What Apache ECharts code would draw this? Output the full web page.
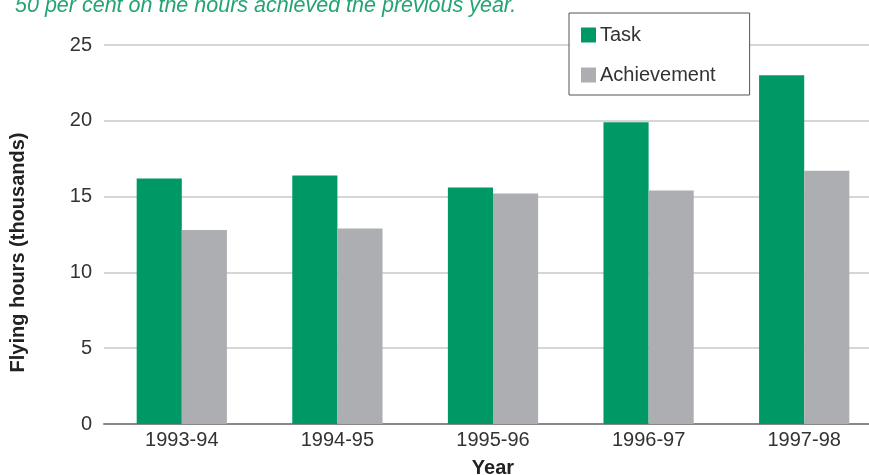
<!DOCTYPE html>
<html><head><meta charset="utf-8">
<script src="https://cdn.jsdelivr.net/npm/echarts@6/dist/echarts.min.js"></script>
<style>html,body{margin:0;padding:0;background:#fff}#c{width:869px;height:475px}</style>
</head><body><div id="c"></div>
<script>
const categories = ['1993-94','1994-95','1995-96','1996-97','1997-98'];
const task = [16.2, 16.4, 15.6, 19.9, 23.0];
const achievement = [12.8, 12.9, 15.2, 15.4, 16.7];
const subtitle = '50 per cent on the hours achieved the previous year.';
const font = '"Liberation Sans", Arial, sans-serif';
const chart = echarts.init(document.getElementById('c'));
chart.setOption({
  animation: false,
  title: { text: subtitle, left: 10, top: -10, textStyle: { fontFamily: font, fontSize: 21.5, fontStyle: 'italic', fontWeight: 'normal', color: '#23a472' } },
  legend: {
    orient: 'vertical', left: 569, top: 13,
    data: ['Task','Achievement'],
    backgroundColor: '#fff', borderColor: '#555', borderWidth: 1,
    padding: [12, 34, 10, 12],
    itemWidth: 15, itemHeight: 15, itemGap: 20,
    icon: 'rect',
    textStyle: { fontFamily: font, fontSize: 20, color: '#333', padding: [0,0,0,-1] }
  },
  grid: { left: 104, width: 778, top: 45, bottom: 51, outerBoundsMode: 'none', containLabel: false },
  xAxis: {
    type: 'category', data: categories,
    name: 'Year', nameLocation: 'middle', nameGap: 34,
    nameTextStyle: { fontFamily: font, fontSize: 20, fontWeight: 'bold', color: '#222' },
    axisLine: { lineStyle: { color: '#888', width: 2 } },
    axisTick: { show: false },
    axisLabel: { fontFamily: font, fontSize: 20, color: '#333', margin: 6 }
  },
  yAxis: {
    type: 'value', min: 0, max: 25, interval: 5,
    name: 'Flying hours (thousands)', nameLocation: 'middle', nameGap: 76,
    nameTextStyle: { fontFamily: font, fontSize: 20, fontWeight: 'bold', color: '#222', padding: [0, 36, 0, 0] },
    axisLine: { show: false }, axisTick: { show: false },
    axisLabel: { fontFamily: font, fontSize: 20, color: '#333', margin: 12 },
    splitLine: { lineStyle: { color: '#c8c8c8', width: 1.5 } }
  },
  series: [
    { name: 'Task', type: 'bar', data: task, barGap: '0%', barCategoryGap: '42%', itemStyle: { color: '#009966' } },
    { name: 'Achievement', type: 'bar', data: achievement, barGap: '0%', barCategoryGap: '42%', itemStyle: { color: '#adaeb1' } }
  ]
});
</script></body></html>
